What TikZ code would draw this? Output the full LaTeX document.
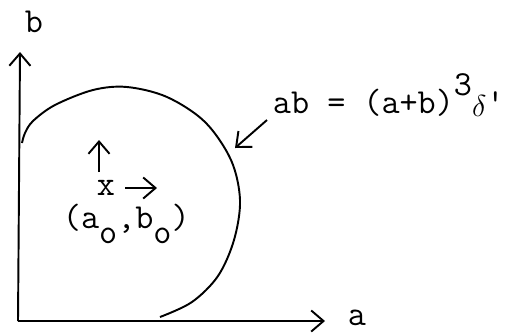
\documentclass[tikz,border=0pt]{standalone}
\usepackage{amsmath}
\usepackage{tikz}
\usetikzlibrary{arrows.meta}

\begin{document}
\begin{tikzpicture}[x=0.02cm, y=-0.02cm, line width=1.1pt,
    >={Straight Barb[length=7pt, width=12pt]},
    every node/.style={inner sep=0pt, font=\fontsize{20}{24}\selectfont\ttfamily}]
    \useasboundingbox (0,0) rectangle (520,332);
    \coordinate (O) at (18,321);
    \coordinate (atip) at (325,321);
    \coordinate (btip) at (20,52);
    \node[anchor=base] (alab) at (357,325) {a};
    \node[anchor=base] (blab) at (34,32) {b};
    \draw[->] (O) -- (atip);
    \draw[->] (O) -- (btip);
    \draw plot[smooth, tension=0.55] coordinates {(22,143) (25,133) (33,121) (55,105) (93,90) (127,87) (167,97) (205,122) (231,160) (240,200) (234,240) (218,276) (192,302) (160,317)};
    \node[anchor=base west] (eq) at (272,113) {ab = (a+b)\raisebox{0.5em}{3}\raisebox{-0.1em}{\fontsize{16}{18}\selectfont$\delta$}\textquotesingle};
    \coordinate (eqfoot) at (267,120);
    \coordinate (hit) at (235,148);
    \draw[->] (eqfoot) -- (hit);
    \node[anchor=base] (x) at (106,195) {x};
    \coordinate (up0) at (99,172);
    \coordinate (up1) at (99,140);
    \coordinate (rt0) at (125,188);
    \coordinate (rt1) at (157,188);
    \draw[->] (up0) -- (up1);
    \draw[->] (rt0) -- (rt1);
    \node[anchor=base west] (ab0) at (62,228) {(a\raisebox{-0.45em}{o},b\raisebox{-0.45em}{o})};
\end{tikzpicture}
\end{document}
